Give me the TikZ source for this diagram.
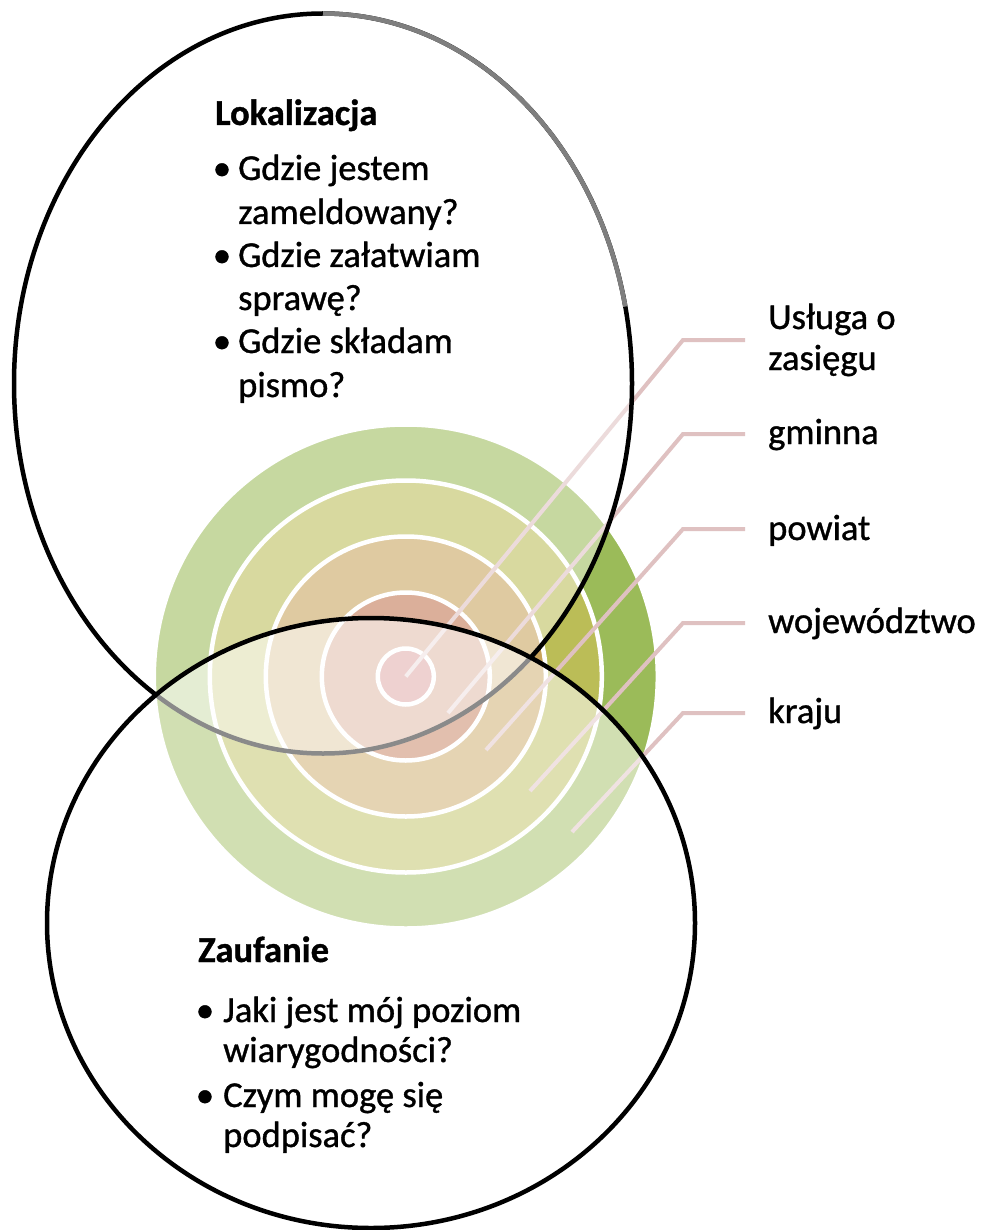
\documentclass[tikz,border=0pt]{standalone}
\usepackage{fontspec}
\setmainfont{Carlito}[FakeBold=1]
\usepackage{xcolor}
\usepackage{tikz}

\definecolor{ringA}{HTML}{9BBB59}
\definecolor{ringB}{HTML}{BBBD57}
\definecolor{ringC}{HTML}{C8A25A}
\definecolor{ringD}{HTML}{C1744F}
\definecolor{ringE}{HTML}{C0504D}
\definecolor{leadpink}{HTML}{DFC1C1}
\definecolor{arcgrey}{HTML}{7F7F7F}

\begin{document}
\begin{tikzpicture}[x=1pt,y=-1pt,
        ring/.style={fill=#1,draw=white,line width=4.5pt},
        leader/.style={leadpink,line width=4pt},
        setbox/.style={draw=black,line width=4.5pt,fill=white,fill opacity=#1},
        txt/.style={anchor=base west,inner sep=0pt,font=\fontsize{36.5}{41}\selectfont},
        lbl/.style={txt,inner xsep=23pt,align=left},
        dot/.style={anchor=base,inner sep=0pt,font=\fontsize{36.5}{41}\selectfont}]
        % Background
        \useasboundingbox (0,0) rectangle (982,1230);
        \fill[white] (0,0) rectangle (982,1230);
        
        % Target rings
        \foreach \r/\col in {252/ringA, 196/ringB, 140/ringC, 84/ringD, 28/ringE}
            \filldraw[ring=\col] (405.8,676.5) circle (\r);
        
        % Leaders to the labels
        \coordinate (s1) at (405.8,676.5);
        \coordinate (k1) at (683,340);
        \node[lbl] (l1) at (745,370) {Usługa o\\zasięgu};
        \draw[leader] (s1) -- (k1) -- (k1 -| l1.west);
        \foreach \i/\sx/\sy/\ly/\by/\txt in {2/448/713/434/444/gminna, 3/486/750/529/540/powiat,
                4/530/791/623/633/województwo, 5/572/832/713/723/kraju} {
            \coordinate (s\i) at (\sx,\sy);
            \coordinate (k\i) at (683,\ly);
            \node[lbl] (l\i) at (745,\by) {\txt};
            \draw[leader] (s\i) -- (k\i) -- (k\i -| l\i.west);
        }
        
        % Lokalizacja and Zaufanie sets
        \filldraw[setbox=0.43] (323,383.5) ellipse [x radius=309, y radius=370];
        \filldraw[setbox=0.54] (371,923) ellipse [x radius=324, y radius=305];
        \draw[arcgrey,line width=4.5pt] (323,383.5) ++(-90:309 and 370)
            arc[start angle=-90, end angle=-12, x radius=309, y radius=370];
        
        % Lokalizacja text
        \node[txt,font=\fontsize{36.5}{41}\selectfont\bfseries] (lok) at (215,125) {Lokalizacja};
        \foreach \n/\y in {1/180, 2/267, 3/353}
            \node[dot] (lokb\n) at (222,\y) {\textbullet};
        \foreach \n/\y/\t in {1/180/Gdzie jestem, 2/224/zameldowany?, 3/267/Gdzie załatwiam,
                4/310/sprawę?, 5/353/Gdzie składam, 6/397/pismo?}
            \node[txt] (lok\n) at (238,\y) {\t};
        
        % Zaufanie text
        \node[txt,font=\fontsize{36.5}{41}\selectfont\bfseries] (zau) at (198,962) {Zaufanie};
        \foreach \n/\y in {1/1022, 2/1107}
            \node[dot] (zaub\n) at (205,\y) {\textbullet};
        \foreach \n/\y/\t in {1/1022/Jaki jest mój poziom, 2/1062/wiarygodności?,
                3/1107/Czym mogę się, 4/1147/podpisać?}
            \node[txt] (zau\n) at (223,\y) {\t};
        
    \end{tikzpicture}
\end{document}
